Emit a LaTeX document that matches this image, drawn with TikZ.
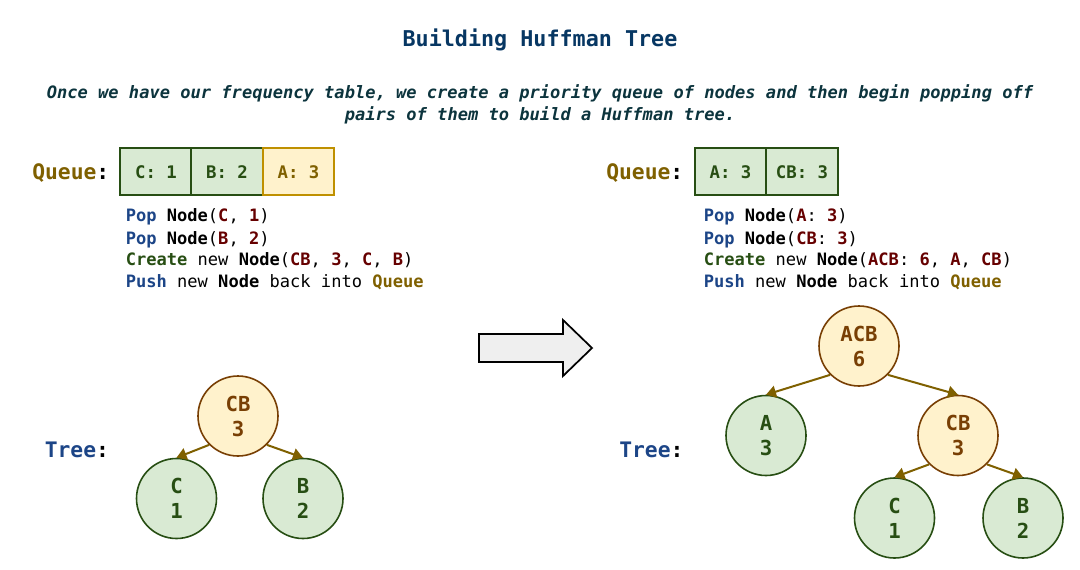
\documentclass[tikz,border=0pt]{standalone}
\usepackage{fontspec}
\setmainfont{DejaVu Sans Mono}[ItalicFont={DejaVu Sans Mono Oblique},BoldFont={DejaVu Sans Mono Bold},BoldItalicFont={DejaVu Sans Mono Bold Oblique}]
\usetikzlibrary{arrows.meta}
\definecolor{titleblue}{HTML}{073763}
\definecolor{subteal}{HTML}{0C343D}
\definecolor{opblue}{HTML}{1C4587}
\definecolor{mkgreen}{HTML}{274E13}
\definecolor{valred}{HTML}{660000}
\definecolor{queuegold}{HTML}{7F6000}
\definecolor{leaffill}{HTML}{D9EAD3}
\definecolor{leafline}{HTML}{274E13}
\definecolor{newfill}{HTML}{FFF2CC}
\definecolor{newline}{HTML}{BF9000}
\definecolor{joinline}{HTML}{783F04}
\definecolor{arrowgrey}{HTML}{EFEFEF}
\newcommand{\opword}[1]{\textcolor{opblue}{\textbf{#1}}}
\newcommand{\mkword}[1]{\textcolor{mkgreen}{\textbf{#1}}}
\newcommand{\valword}[1]{\textcolor{valred}{\textbf{#1}}}
\newcommand{\qword}[1]{\textcolor{queuegold}{\textbf{#1}}}
\newcommand{\leafnode}[4]{
  \node[leaf] (#1) at (#2) {#3\\#4};
}
\newcommand{\joinnode}[4]{
  \node[joinnode] (#1) at (#2) {#3\\#4};
}
\tikzset{
  qbox/.style={draw=leafline, fill=leaffill, line width=1.5pt, minimum width=53.3pt,
    minimum height=35.3pt, inner sep=0pt, outer sep=0pt,
    font=\fontsize{13}{15.6}\selectfont\bfseries, text=mkgreen},
  qboxnew/.style={qbox, draw=newline, fill=newfill, text=queuegold},
  leaf/.style={circle, draw=leafline, fill=leaffill, line width=1.2pt, minimum size=60pt,
    inner sep=0pt, align=center, font=\fontsize{15.5}{18.75}\selectfont\bfseries, text=mkgreen},
  joinnode/.style={leaf, draw=joinline, fill=newfill, text=joinline},
  codeline/.style={anchor=base west, inner sep=0pt, font=\fontsize{12.8}{16}\selectfont},
  sidelabel/.style={anchor=base west, inner sep=0pt, font=\fontsize{16}{19}\selectfont\bfseries},
  intro/.style={anchor=base, inner sep=0pt, text=subteal, font=\fontsize{12.8}{16}\selectfont\bfseries\itshape},
  bigarrow/.style={draw=black, fill=arrowgrey, line width=1.3pt, line join=miter}
}

\begin{document}
\begin{tikzpicture}[x=0.75pt,y=-0.75pt]
	\useasboundingbox (0,0) rectangle (1080,570);
	\node[anchor=base, inner sep=0pt, text=titleblue, font=\fontsize{16.3}{19.5}\selectfont\bfseries] (title) at (540,46.5) {Building Huffman Tree};
	\node[intro] (intro1) at (540,99) {Once we have our frequency table, we create a priority queue of nodes and then begin popping off};
	\node[intro] (intro2) at (540,120.5) {pairs of them to build a Huffman tree.};

	\node[sidelabel] (queueL) at (32,179.5) {\qword{Queue}:};
	\node[qbox] (qC) at (156,171.7) {C: 1};
	\node[qbox] (qB) at (227,171.7) {B: 2};
	\node[qboxnew] (qA) at (298.5,171.7) {A: 3};
	\node[codeline] (popC) at (125.5,222) {\opword{Pop} \textbf{Node}(\valword{C}, \valword{1})};
	\node[codeline] (popB) at (125.5,244) {\opword{Pop} \textbf{Node}(\valword{B}, \valword{2})};
	\node[codeline] (makeCB) at (125.5,265.5) {\mkword{Create} new \textbf{Node}(\valword{CB}, \valword{3}, \valword{C}, \valword{B})};
	\node[codeline] (pushCB) at (125.5,287) {\opword{Push} new \textbf{Node} back into \qword{Queue}};

	\node[sidelabel] (treeL) at (44.5,457) {\opword{Tree}:};
	\joinnode{cb}{238,416}{CB}{3}
	\leafnode{c}{176.5,498.5}{C}{1}
	\leafnode{b}{303,498.5}{B}{2}

	\draw[bigarrow] (479,334) -- (563,334) -- (563,320) -- (592,348) -- (563,376) -- (563,362) -- (479,362) -- cycle;

	\node[sidelabel] (queueR) at (606,179.5) {\qword{Queue}:};
	\node[qbox] (qA2) at (730.5,171.7) {A: 3};
	\node[qbox] (qCB2) at (802,171.7) {CB: 3};
	\node[codeline] (popA) at (703.5,222) {\opword{Pop} \textbf{Node}(\valword{A}: \valword{3})};
	\node[codeline] (popCB) at (703.5,244) {\opword{Pop} \textbf{Node}(\valword{CB}: \valword{3})};
	\node[codeline] (makeACB) at (703.5,265.5) {\mkword{Create} new \textbf{Node}(\valword{ACB}: \valword{6}, \valword{A}, \valword{CB})};
	\node[codeline] (pushACB) at (703.5,287) {\opword{Push} new \textbf{Node} back into \qword{Queue}};

	\node[sidelabel] (treeR) at (619,457) {\opword{Tree}:};
	\joinnode{acb}{859,346}{ACB}{6}
	\leafnode{a2}{766,435.5}{A}{3}
	\joinnode{cb2}{958,435.5}{CB}{3}
	\leafnode{c2}{894.5,518}{C}{1}
	\leafnode{b2}{1023,518}{B}{2}

	\tikzstyle{EdgeStyle}=[draw=queuegold, line width=1.5pt, -{Triangle[length=7.5pt,width=9pt]}]
	\draw[EdgeStyle] (cb.south west) -- (c.north);
	\draw[EdgeStyle] (cb.south east) -- (b.north);
	\draw[EdgeStyle] (acb.south west) -- (a2.north);
	\draw[EdgeStyle] (acb.south east) -- (cb2.north);
	\draw[EdgeStyle] (cb2.south west) -- (c2.north);
	\draw[EdgeStyle] (cb2.south east) -- (b2.north);
\end{tikzpicture}
\end{document}
